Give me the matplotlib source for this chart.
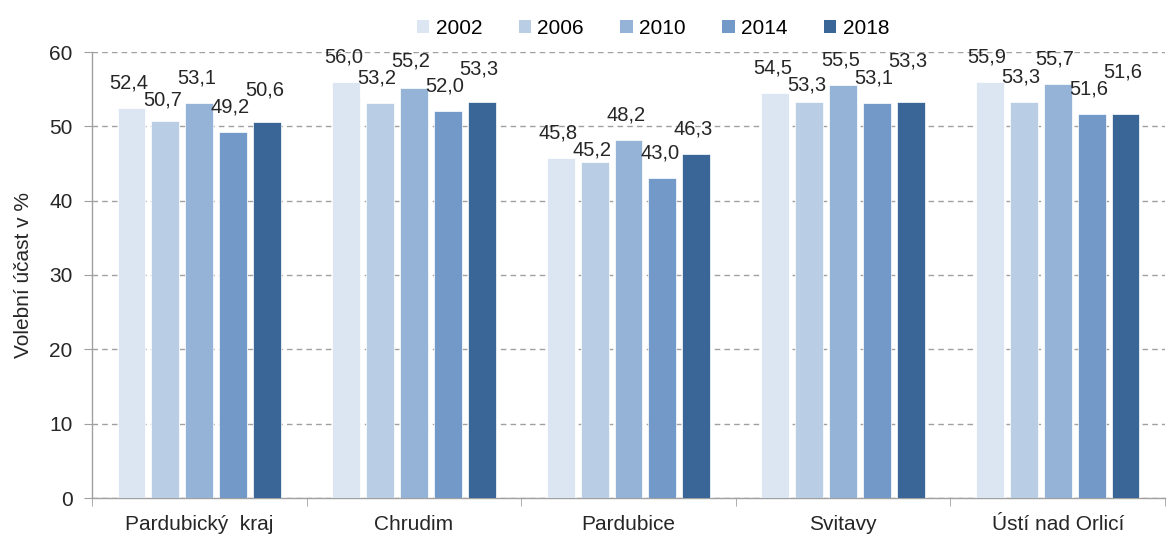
import matplotlib
matplotlib.use("Agg")
import matplotlib.pyplot as plt
import numpy as np
from matplotlib.patches import Patch

categories = ["Pardubický  kraj", "Chrudim", "Pardubice", "Svitavy", "Ústí nad Orlicí"]
years = ["2002", "2006", "2010", "2014", "2018"]
v2002 = [52.4, 56.0, 45.8, 54.5, 55.9]
v2006 = [50.7, 53.2, 45.2, 53.3, 53.3]
v2010 = [53.1, 55.2, 48.2, 55.5, 55.7]
v2014 = [49.2, 52.0, 43.0, 53.1, 51.6]
v2018 = [50.6, 53.3, 46.3, 53.3, 51.6]
series = [v2002, v2006, v2010, v2014, v2018]
colors = ["#dce6f2", "#b9cde5", "#95b3d7", "#7399c9", "#3a6597"]

plt.rcParams['font.family'] = ['Liberation Sans', 'DejaVu Sans']
fig = plt.figure(figsize=(11.69, 5.38), dpi=100)
ax_h_px = 498 - 52
ax = fig.add_axes([92/1169, 1-498/538, (1165-92)/1169, ax_h_px/538])

ymax = 60
px_per_unit = ax_h_px / ymax
x = np.arange(len(categories))
pitch = 0.158
width = 0.13
for i, (vals, c) in enumerate(zip(series, colors)):
    xs = x + (i - 2) * pitch
    ax.bar(xs, vals, width=width, color=c, edgecolor='white', linewidth=0.5, zorder=3)

# label placement (pixels above axis), staggered to avoid overlaps
desired, sep, clear = 25, 17, 12
for g in range(len(categories)):
    prev = None
    for i, vals in enumerate(series):
        v = vals[g]
        top = v * px_per_unit
        h = top + desired
        if prev is not None and abs(h - prev) < sep:
            down = prev - sep
            h = down if down >= top + clear else prev + sep
        prev = h
        xi = x[g] + (i - 2) * pitch
        ax.annotate(f"{v:.1f}".replace('.', ','), (xi, v), xytext=(-2, (h - top) * 0.72),
                    textcoords='offset points', ha='center', va='center',
                    fontsize=14.5, color='#262626', zorder=4, annotation_clip=False)

ax.set_xlim(-0.5, len(categories) - 0.5)
ax.set_ylim(0, ymax)
ax.set_yticks(range(0, 61, 10))
ax.tick_params(axis='y', labelsize=15, colors='#262626', length=6, color='#a0a0a0', pad=8)
ax.set_xticks(x)
ax.set_xticklabels(categories, fontsize=15, color='#262626')
ax.tick_params(axis='x', length=0, pad=12)
ax.set_xticks(np.arange(-0.5, len(categories)), minor=True)
ax.tick_params(axis='x', which='minor', length=6, color='#a0a0a0')
ax.yaxis.grid(True, linestyle=(0, (4, 3)), color='#a0a0a0', linewidth=1, zorder=0)
for s in ['top', 'right']:
    ax.spines[s].set_visible(False)
for s in ['left', 'bottom']:
    ax.spines[s].set_color('#a0a0a0')
    ax.spines[s].set_linewidth(1)
ax.set_ylabel("Volební účast v %", fontsize=15, color='#262626', labelpad=12)

handles = [Patch(facecolor=c, edgecolor='none') for c in colors]
fig.legend(handles, years, loc='upper center', bbox_to_anchor=(0.5586, 1.0), ncol=5,
           frameon=False, fontsize=15, handlelength=0.6, handleheight=0.6,
           handletextpad=0.3, columnspacing=1.75)

fig.savefig("out.png", dpi=100)
